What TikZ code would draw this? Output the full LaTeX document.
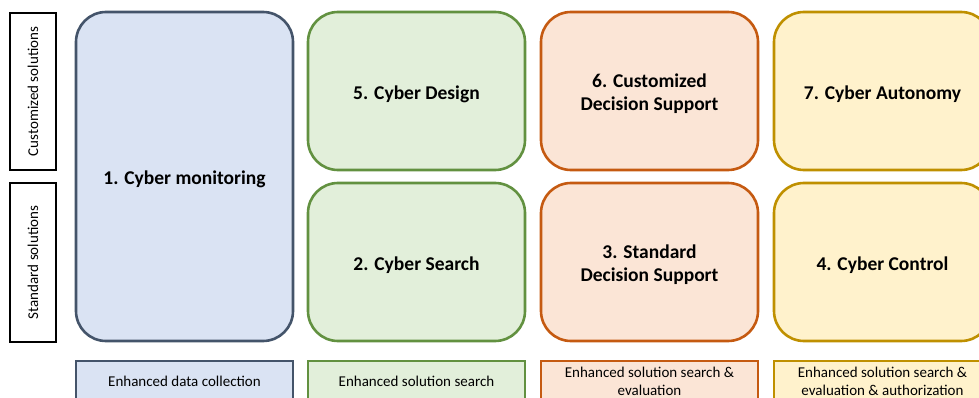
\documentclass[tikz,border=0pt]{standalone}
\usepackage{fontspec}
\setmainfont{Carlito}
\definecolor{bfill}{HTML}{DAE3F3}\definecolor{bdraw}{HTML}{44546A}
\definecolor{gfill}{HTML}{E2EFDA}\definecolor{gdraw}{HTML}{629140}
\definecolor{ofill}{HTML}{FBE5D6}\definecolor{odraw}{HTML}{C55A11}
\definecolor{yfill}{HTML}{FFF2CC}\definecolor{ydraw}{HTML}{BF9000}
\tikzset{
  bigbox/.style={rounded corners=30pt, line width=2.6pt, minimum width=217pt, inner sep=0pt},
  bigtext/.style={inner sep=0pt, align=center, font=\fontsize{19.5}{23}\selectfont\bfseries},
  smallbox/.style={line width=2pt, minimum width=217pt, minimum height=40pt, inner sep=0pt, align=center, font=\fontsize{15}{18}\selectfont},
  sidebox/.style={draw=black, fill=white, line width=2pt, minimum height=46pt, inner sep=0pt, font=\fontsize{15}{16}\selectfont, rotate=90}
}
\begin{document}
\begin{tikzpicture}[x=1pt,y=-1pt]
\useasboundingbox (0,0) rectangle (979,398);
\clip (0,0) rectangle (979,398);
% side labels
\node[sidebox, minimum width=157pt] (cust) at (33,91.5) {Customized solutions};
\node[sidebox, minimum width=159pt] (std) at (33,262.5) {Standard solutions};
% big boxes
\node[bigbox, draw=bdraw, fill=bfill, minimum height=329pt] (mon) at (184.5,176.5) {};
\node[bigbox, draw=gdraw, fill=gfill, minimum height=158pt] (des) at (416.5,91) {};
\node[bigbox, draw=gdraw, fill=gfill, minimum height=158pt] (sea) at (416.5,262) {};
\node[bigbox, draw=odraw, fill=ofill, minimum height=158pt] (cds) at (649.5,91) {};
\node[bigbox, draw=odraw, fill=ofill, minimum height=158pt] (sds) at (649.5,262) {};
\node[bigbox, draw=ydraw, fill=yfill, minimum height=158pt] (aut) at (882.5,91) {};
\node[bigbox, draw=ydraw, fill=yfill, minimum height=158pt] (con) at (882.5,262) {};
\node[bigtext] (mont) at ([yshift=-3pt]mon.center) {1. Cyber monitoring};
\node[bigtext] (dest) at ([yshift=-3pt]des.center) {5. Cyber Design};
\node[bigtext] (seat) at ([yshift=-3pt]sea.center) {2. Cyber Search};
\node[bigtext] (cdst) at ([yshift=-3pt]cds.center) {6. Customized\\Decision Support};
\node[bigtext] (sdst) at ([yshift=-3pt]sds.center) {3. Standard\\Decision Support};
\node[bigtext] (autt) at ([yshift=-3pt]aut.center) {7. Cyber Autonomy};
\node[bigtext] (cont) at ([yshift=-3pt]con.center) {4. Cyber Control};
% bottom boxes
\node[smallbox, draw=bdraw, fill=bfill, anchor=north] (b1) at (184.5,360) {Enhanced data collection};
\node[smallbox, draw=gdraw, fill=gfill, anchor=north] (b2) at (416.5,360) {Enhanced solution search};
\node[smallbox, draw=odraw, fill=ofill, anchor=north] (b3) at (649.5,360) {Enhanced solution search \&\\evaluation};
\node[smallbox, draw=ydraw, fill=yfill, anchor=north] (b4) at (882.5,360) {Enhanced solution search \&\\evaluation \& authorization};
\end{tikzpicture}
\end{document}
